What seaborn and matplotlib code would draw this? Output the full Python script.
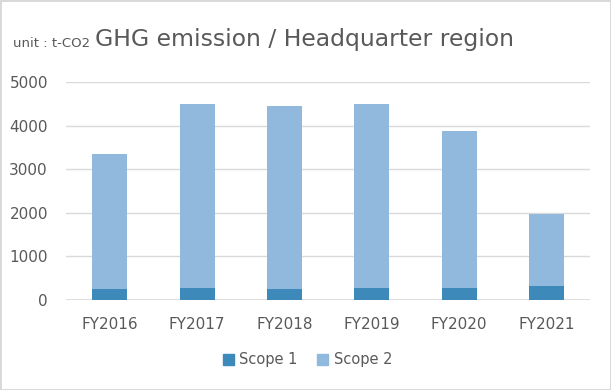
# GHG emission stacked bar chart (Headquarter region)

import matplotlib
matplotlib.use("Agg")
import matplotlib.pyplot as plt
import seaborn as sns
from matplotlib.patches import Patch

# data
years = ["FY2016", "FY2017", "FY2018", "FY2019", "FY2020", "FY2021"]
scope1 = [260, 283, 260, 283, 283, 330]
scope2 = [3092, 4207, 4184, 4207, 3586, 1650]
totals = [a + b for a, b in zip(scope1, scope2)]

C_SCOPE1 = "#3D89BA"
C_SCOPE2 = "#91B9DD"
TEXT = "#595959"

sns.set_theme(style="white")
plt.rcParams["font.family"] = ["DejaVu Sans"]

fig = plt.figure(figsize=(6.11, 3.90), dpi=100)
fig.patch.set_edgecolor("#d9d9d9")
fig.patch.set_linewidth(2)
ax = fig.add_axes([0.108, 0.2308, 0.858, 0.559])

# stacked: draw totals (scope 2 on top) then scope 1 over it
sns.barplot(x=years, y=totals, color=C_SCOPE2, width=0.4, saturation=1,
            linewidth=0, edgecolor="none", ax=ax, zorder=2)
sns.barplot(x=years, y=scope1, color=C_SCOPE1, width=0.4, saturation=1,
            linewidth=0, edgecolor="none", ax=ax, zorder=3)

ax.set_ylim(0, 5000)
ax.set_yticks(range(0, 5001, 1000))
ax.yaxis.grid(True, color="#d9d9d9", linewidth=1)
ax.set_axisbelow(True)
for s in ax.spines.values():
    s.set_visible(False)
ax.axhline(0, color="#d9d9d9", linewidth=1.2, zorder=1)
ax.tick_params(axis="y", length=0, pad=13, labelsize=11, labelcolor=TEXT)
ax.tick_params(axis="x", length=0, pad=12, labelsize=11, labelcolor=TEXT)
ax.set_xlabel("")
ax.set_ylabel("")

fig.text(0.498, 0.882, "GHG emission / Headquarter region", fontsize=16.9,
         color=TEXT, ha="center", va="baseline")
fig.text(0.021, 0.880, "unit : t-CO2", fontsize=9.5, color=TEXT, ha="left", va="baseline")

handles = [Patch(color=C_SCOPE1, label="Scope 1"), Patch(color=C_SCOPE2, label="Scope 2")]
fig.legend(handles=handles, loc="center", bbox_to_anchor=(0.503, 0.077), ncol=2,
           frameon=False, handlelength=0.75, handleheight=0.75, handletextpad=0.4,
           columnspacing=1.3, labelcolor=TEXT, fontsize=10.5)

fig.savefig("out.png", dpi=100)
